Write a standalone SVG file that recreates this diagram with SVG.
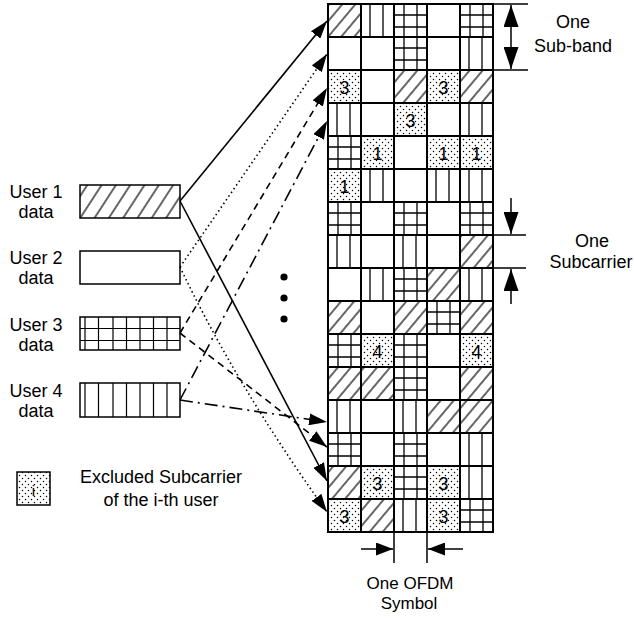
<svg xmlns="http://www.w3.org/2000/svg" width="634" height="624" viewBox="0 0 634 624">
<style>
text{font-family:"Liberation Sans",Arial,sans-serif;font-size:18px;fill:#000}
.mid{text-anchor:middle}
.h{fill:url(#pH)}
.v{fill:url(#pV)}
.g{fill:url(#pG)}
.x{fill:url(#pX)}
.gl{stroke:#000;stroke-width:2}
.box{stroke:#000;stroke-width:1.5}
.thin{stroke:#000;stroke-width:1.2}
.con{fill:none;stroke:#000;stroke-width:1.6}
.sol{marker-end:url(#arr)}
.dot{stroke-dasharray:1.5 3;marker-end:url(#arr)}
.dsh{stroke-dasharray:7 5;marker-end:url(#arr)}
.dd{stroke-dasharray:13 5 2 5;marker-end:url(#arr)}
.ann{stroke:#000;stroke-width:1.5;fill:none}
.sm{font-size:17px}
</style>
<defs>
<pattern id="pH" patternUnits="userSpaceOnUse" width="10" height="10" patternTransform="rotate(40)">
<rect width="10" height="10" fill="#fff"/><line x1="5" y1="0" x2="5" y2="10" stroke="#000" stroke-width="1.2"/>
</pattern>
<pattern id="pH2" patternUnits="userSpaceOnUse" width="12" height="12" patternTransform="rotate(33)">
<rect width="12" height="12" fill="#fff"/><line x1="6" y1="0" x2="6" y2="12" stroke="#000" stroke-width="1.2"/>
</pattern>
<pattern id="pV" patternUnits="userSpaceOnUse" x="328" y="4" width="33" height="33">
<rect width="33" height="33" fill="#fff"/>
<line x1="9" y1="0" x2="9" y2="33" stroke="#000" stroke-width="1.3"/>
<line x1="22" y1="0" x2="22" y2="33" stroke="#000" stroke-width="1.3"/>
</pattern>
<pattern id="pG" patternUnits="userSpaceOnUse" x="328" y="4" width="33" height="33">
<rect width="33" height="33" fill="#fff"/>
<line x1="10" y1="0" x2="10" y2="33" stroke="#000" stroke-width="1.3"/>
<line x1="23" y1="0" x2="23" y2="33" stroke="#000" stroke-width="1.3"/>
<line x1="0" y1="11" x2="33" y2="11" stroke="#000" stroke-width="1.3"/>
<line x1="0" y1="23" x2="33" y2="23" stroke="#000" stroke-width="1.3"/>
</pattern>
<pattern id="pX" patternUnits="userSpaceOnUse" width="6" height="6">
<rect width="6" height="6" fill="#fff"/>
<circle cx="1.5" cy="1.5" r="0.75" fill="#000"/>
<circle cx="4.5" cy="4.5" r="0.75" fill="#000"/>
</pattern>
<marker id="arr" markerUnits="userSpaceOnUse" markerWidth="18" markerHeight="12" refX="18" refY="6" orient="auto">
<path d="M0,0 L18,6 L0,12 z" fill="#000"/>
</marker>
<marker id="arrB" markerUnits="userSpaceOnUse" markerWidth="22" markerHeight="15" refX="22" refY="7.5" orient="auto-start-reverse">
<path d="M0,0 L22,7.5 L0,15 z" fill="#000"/>
</marker>
<marker id="arrS" markerUnits="userSpaceOnUse" markerWidth="17" markerHeight="13" refX="17" refY="6.5" orient="auto">
<path d="M0,0 L17,6.5 L0,13 z" fill="#000"/>
</marker>
</defs>

<g id="user1">
<text class="mid" x="36" y="198">User 1</text>
<text class="mid" x="36" y="218">data</text>
<rect x="80" y="185" width="100" height="33" fill="url(#pH2)" class="box"/>
</g>
<g id="user2">
<text class="mid" x="36" y="264">User 2</text>
<text class="mid" x="36" y="284">data</text>
<rect x="80" y="251" width="100" height="33" fill="#fff" class="box"/>
</g>
<g id="user3">
<text class="mid" x="36" y="331">User 3</text>
<text class="mid" x="36" y="351">data</text>
<rect x="80" y="317" width="100" height="33" fill="#fff" class="box"/>
<path class="thin" d="M85,317V350M98.5,317V350M113,317V350M126.5,317V350M140,317V350M153.5,317V350M167,317V350M80,328.5H180M80,340.5H180"/>
</g>
<g id="user4">
<text class="mid" x="36" y="397">User 4</text>
<text class="mid" x="36" y="417">data</text>
<rect x="80" y="383" width="100" height="34" fill="#fff" class="box"/>
<path class="thin" d="M85,383V417M98.5,383V417M113,383V417M126.5,383V417M140,383V417M153.5,383V417M167,383V417"/>
</g>

<g id="ellipsis">
<circle cx="284" cy="277" r="3.6"/>
<circle cx="284" cy="298" r="3.6"/>
<circle cx="284" cy="319" r="3.6"/>
</g>

<g id="legend">
<rect x="17" y="472" width="33" height="33" class="x box"/>
<text class="mid" x="33.5" y="496" style="font-size:15px">i</text>
<text class="mid" x="161" y="483">Excluded Subcarrier</text>
<text class="mid" x="161" y="506">of the i-th user</text>
</g>

<g id="grid">
<rect x="328" y="4" width="165" height="528" fill="#fff"/>
<rect class="h" x="328" y="4" width="33" height="33"/><rect class="v" x="361" y="4" width="33" height="33"/><rect class="g" x="394" y="4" width="33" height="33"/><rect class="g" x="460" y="4" width="33" height="33"/>
<rect class="g" x="394" y="37" width="33" height="33"/><rect class="v" x="460" y="37" width="33" height="33"/>
<rect class="x" x="328" y="70" width="33" height="33"/><rect class="h" x="394" y="70" width="33" height="33"/><rect class="x" x="427" y="70" width="33" height="33"/><rect class="h" x="460" y="70" width="33" height="33"/>
<rect class="v" x="328" y="103" width="33" height="33"/><rect class="x" x="394" y="103" width="33" height="33"/><rect class="v" x="460" y="103" width="33" height="33"/>
<rect class="g" x="328" y="136" width="33" height="33"/><rect class="x" x="361" y="136" width="33" height="33"/><rect class="x" x="427" y="136" width="33" height="33"/><rect class="x" x="460" y="136" width="33" height="33"/>
<rect class="x" x="328" y="169" width="33" height="33"/><rect class="v" x="361" y="169" width="33" height="33"/><rect class="v" x="427" y="169" width="33" height="33"/><rect class="v" x="460" y="169" width="33" height="33"/>
<rect class="g" x="328" y="202" width="33" height="33"/><rect class="g" x="394" y="202" width="33" height="33"/><rect class="g" x="460" y="202" width="33" height="33"/>
<rect class="v" x="328" y="235" width="33" height="33"/><rect class="v" x="394" y="235" width="33" height="33"/><rect class="h" x="460" y="235" width="33" height="33"/>
<rect class="v" x="361" y="268" width="33" height="33"/><rect class="g" x="394" y="268" width="33" height="33"/><rect class="h" x="427" y="268" width="33" height="33"/><rect class="v" x="460" y="268" width="33" height="33"/>
<rect class="h" x="328" y="301" width="33" height="33"/><rect class="h" x="394" y="301" width="33" height="33"/><rect class="g" x="427" y="301" width="33" height="33"/><rect class="h" x="460" y="301" width="33" height="33"/>
<rect class="g" x="328" y="334" width="33" height="33"/><rect class="x" x="361" y="334" width="33" height="33"/><rect class="g" x="394" y="334" width="33" height="33"/><rect class="x" x="460" y="334" width="33" height="33"/>
<rect class="h" x="328" y="367" width="33" height="33"/><rect class="h" x="361" y="367" width="33" height="33"/><rect class="g" x="394" y="367" width="33" height="33"/><rect class="h" x="460" y="367" width="33" height="33"/>
<rect class="v" x="328" y="400" width="33" height="33"/><rect class="v" x="394" y="400" width="33" height="33"/><rect class="h" x="427" y="400" width="33" height="33"/><rect class="h" x="460" y="400" width="33" height="33"/>
<rect class="g" x="328" y="433" width="33" height="33"/><rect class="g" x="394" y="433" width="33" height="33"/><rect class="v" x="460" y="433" width="33" height="33"/>
<rect class="h" x="328" y="466" width="33" height="33"/><rect class="x" x="361" y="466" width="33" height="33"/><rect class="g" x="394" y="466" width="33" height="33"/><rect class="x" x="427" y="466" width="33" height="33"/><rect class="v" x="460" y="466" width="33" height="33"/>
<rect class="x" x="328" y="499" width="33" height="33"/><rect class="h" x="361" y="499" width="33" height="33"/><rect class="v" x="394" y="499" width="33" height="33"/><rect class="x" x="427" y="499" width="33" height="33"/><rect class="g" x="460" y="499" width="33" height="33"/>

<g class="num">
<text class="mid" x="344.5" y="94">3</text><text class="mid" x="443.5" y="94">3</text>
<text class="mid" x="410.5" y="127">3</text>
<text class="mid" x="377.5" y="160">1</text><text class="mid" x="443.5" y="160">1</text><text class="mid" x="476.5" y="160">1</text>
<text class="mid" x="344.5" y="193">1</text>
<text class="mid" x="377.5" y="358">4</text><text class="mid" x="476.5" y="358">4</text>
<text class="mid" x="377.5" y="490">3</text><text class="mid" x="443.5" y="490">3</text>
<text class="mid" x="344.5" y="523">3</text><text class="mid" x="443.5" y="523">3</text>
</g>

<path class="gl" fill="none" d="M328,3V533M361,3V533M394,3V533M427,3V533M460,3V533M493,3V533
M327,4H494M327,37H494M327,70H494M327,103H494M327,136H494M327,169H494M327,202H494M327,235H494M327,268H494M327,301H494M327,334H494M327,367H494M327,400H494M327,433H494M327,466H494M327,499H494M327,532H494"/>
</g>

<g id="connectors">
<path class="con sol" d="M180,201 L327,21"/>
<path class="con sol" d="M180,201 L327,481"/>
<path class="con dot" d="M180,267 L327,54"/>
<path class="con dot" d="M180,267 Q236,385 327,512"/>
<path class="con dsh" d="M180,333 L327,88"/>
<path class="con dsh" d="M180,333 L327,447"/>
<path class="con dd" d="M180,400 L327,121"/>
<path class="con dd" d="M180,400 L327,422"/>
</g>

<g id="subband">
<path class="ann" d="M493,4H528M493,70H528"/>
<path class="ann" d="M511,5V69" marker-start="url(#arrB)" marker-end="url(#arrB)"/>
<text class="mid" x="573" y="28">One</text>
<text class="mid" x="573" y="52">Sub-band</text>
</g>
<g id="subcarrier">
<path class="ann" d="M493,235H526M493,268H526"/>
<path class="ann" d="M511,198V234" marker-end="url(#arrB)"/>
<path class="ann" d="M511,304V269" marker-end="url(#arrB)"/>
<text class="mid" x="592" y="247">One</text>
<text class="mid" x="591" y="268">Subcarrier</text>
</g>
<g id="ofdm">
<path class="ann" d="M394,532V563M427,532V563"/>
<path class="ann" d="M361,549H393" marker-end="url(#arrS)"/>
<path class="ann" d="M463,549H428" marker-end="url(#arrS)"/>
<text class="mid sm" x="410" y="589">One OFDM</text>
<text class="mid sm" x="409" y="609">Symbol</text>
</g>
</svg>
